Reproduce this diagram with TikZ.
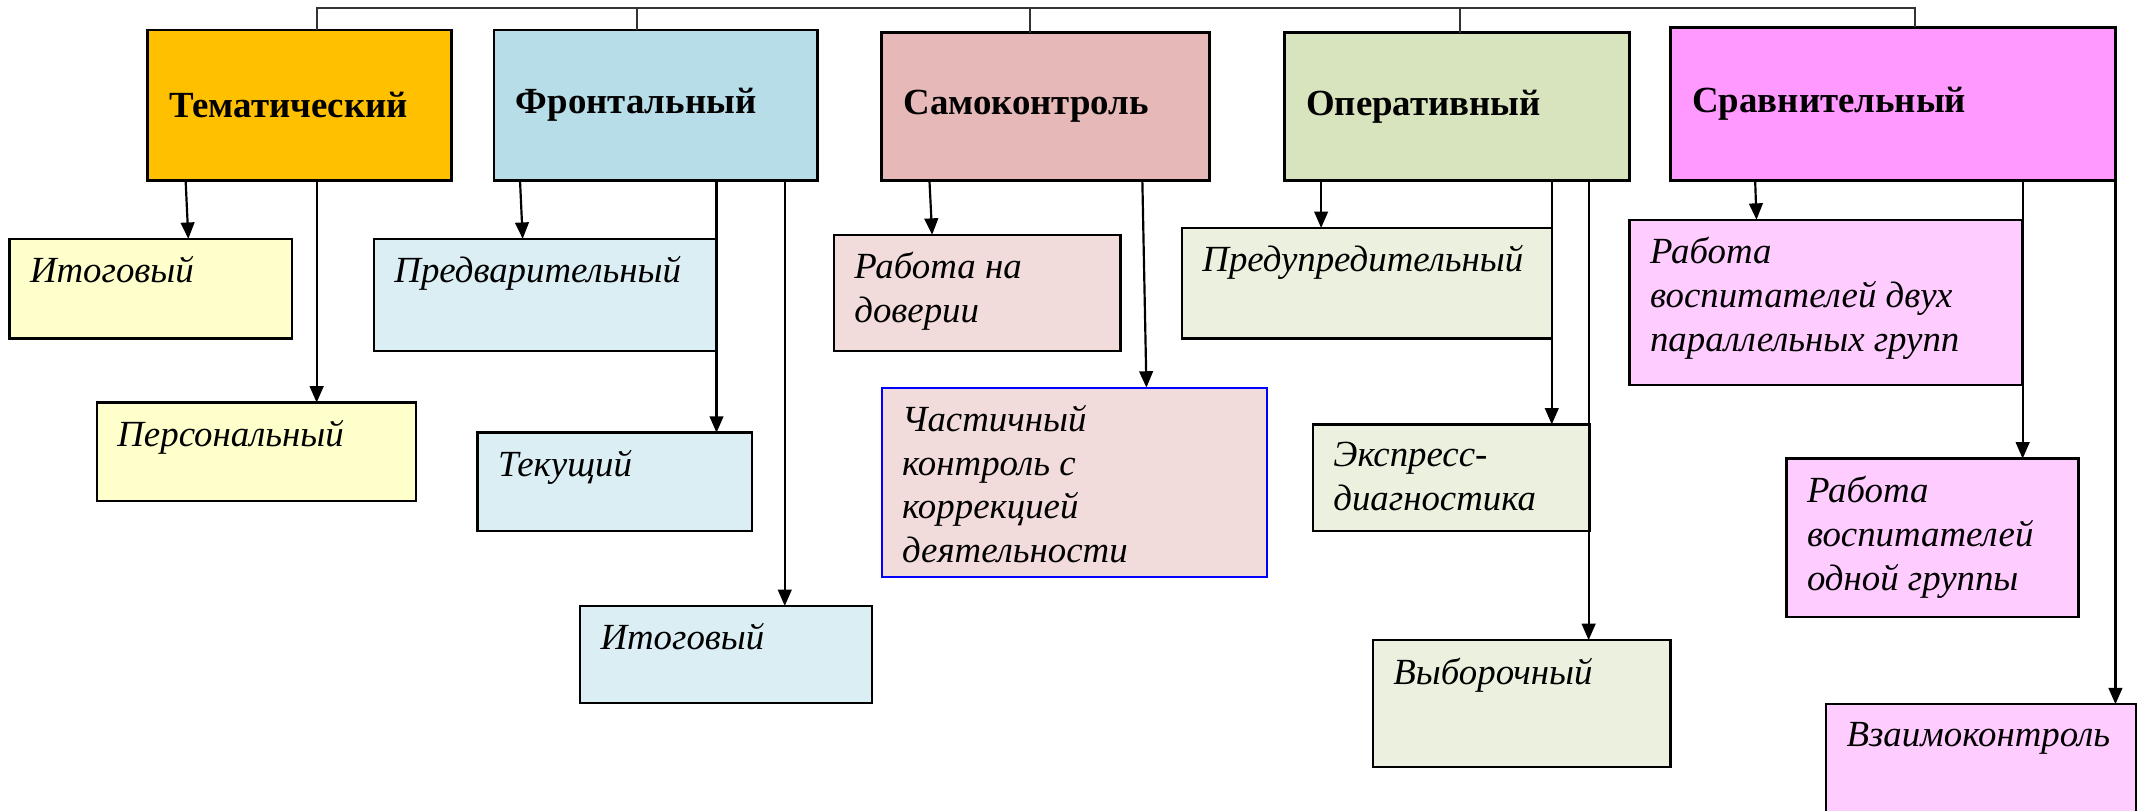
\documentclass[tikz,border=0pt]{standalone}
\usepackage{fontspec}
\setmainfont{Liberation Serif}
\usepackage{tikz}
\usetikzlibrary{arrows.meta}
\definecolor{temaOrange}{RGB}{255, 192, 0}
\definecolor{temaYellow}{RGB}{255, 255, 204}
\definecolor{frontBlue}{RGB}{183, 221, 232}
\definecolor{frontLight}{RGB}{219, 238, 244}
\definecolor{selfRose}{RGB}{230, 185, 184}
\definecolor{selfLight}{RGB}{242, 220, 219}
\definecolor{operGreen}{RGB}{215, 228, 189}
\definecolor{operLight}{RGB}{235, 241, 222}
\definecolor{compPink}{RGB}{255, 153, 255}
\definecolor{compLight}{RGB}{255, 204, 255}

% sub-box: name, x, y, width, height, options, text
\newcommand{\ctrlbox}[7]{%
    \pgfmathsetlengthmacro{\boxw}{#4-30}%
    \pgfmathsetlengthmacro{\boxh}{#5-26}%
    \node[subbox, #6] (#1) at (#2,#3) {\parbox[t][\boxh][t]{\boxw}{\raggedright #7}};}

\begin{document}
\begin{tikzpicture}[x=1pt, y=-1pt, >={Triangle[length=12pt, width=10pt]},
    topbox/.style={draw, line width=2pt, anchor=north west, outer sep=0pt,
        inner xsep=16pt, align=left, font=\fontsize{27}{32}\selectfont\bfseries},
    subbox/.style={draw, line width=1.8pt, anchor=north west, outer sep=0pt,
        inner xsep=15pt, inner ysep=13pt, font=\fontsize{27}{32}\selectfont\itshape},
    link/.style={->, line width=1.6pt},
    barline/.style={line width=1.5pt, black!80}]
            \useasboundingbox (0,0) rectangle (1568,594);
            \clip (0,0) rectangle (1568,594);

            % main kinds of control
            \node[topbox, fill=temaOrange, minimum width=223pt, minimum height=110pt, text width=191pt] (tema) at (108,22) {Тематический};
            \node[topbox, fill=frontBlue, minimum width=237pt, minimum height=110pt, text width=205pt] (front) at (362,22) {Фронтальный};
            \node[topbox, fill=selfRose, minimum width=240pt, minimum height=108pt, text width=208pt] (self) at (646,24) {Самоконтроль};
            \node[topbox, fill=operGreen, minimum width=253pt, minimum height=108pt, text width=221pt] (oper) at (941,24) {Оперативный};
            \node[topbox, fill=compPink, minimum width=326pt, minimum height=112pt, text width=294pt] (compar) at (1224,20) {Сравнительный};

            \draw[barline] (tema.north -| 232,0) |- (1403,6) -- (compar.north -| 1403,0);
            \foreach \n/\x in {front/467, self/755, oper/1070}
                \draw[barline] (\n.north -| \x,0) -- (\x,6);

            % sub-kinds
            \ctrlbox{itogA}{7}{175}{207}{73}{fill=temaYellow}{Итоговый}
            \ctrlbox{pers}{71}{295}{234}{72}{fill=temaYellow}{Персональный}
            \ctrlbox{pred}{274}{175}{251}{82}{fill=frontLight}{Предварительный}
            \ctrlbox{tek}{350}{317}{201}{72}{fill=frontLight}{Текущий}
            \ctrlbox{itogB}{425}{444}{214}{71}{fill=frontLight}{Итоговый}
            \ctrlbox{dover}{611}{172}{210}{85}{fill=selfLight}{Работа на\\доверии}
            \ctrlbox{chast}{646}{284}{282}{139}{fill=selfLight, draw=blue, line width=1.4pt}{Частичный\\контроль с\\коррекцией\\деятельности}
            \ctrlbox{predu}{866}{167}{271}{81}{fill=operLight}{Предупредительный}
            \ctrlbox{ekspr}{962}{311}{203}{78}{fill=operLight}{Экспресс-\\диагностика}
            \ctrlbox{vybor}{1006}{469}{218}{93}{fill=operLight}{Выборочный}
            \ctrlbox{dvuh}{1194}{161}{288}{121}{fill=compLight}{Работа\\воспитателей двух\\параллельных групп}
            \ctrlbox{odnoj}{1309}{336}{214}{116}{fill=compLight}{Работа\\воспитателей\\одной группы}
            \ctrlbox{vzaim}{1338}{516}{227}{130}{fill=compLight}{Взаимоконтроль}

            % arrows
            \draw[link] (tema.south -| 136,0) -- (itogA.north -| 138,0);
            \draw[link] (tema.south -| 232,0) -- (pers.north -| 232,0);
            \draw[link] (front.south -| 381,0) -- (pred.north -| 383,0);
            \draw[link] (front.south -| 525,0) -- (tek.north -| 525,0);
            \draw[link] (front.south -| 575,0) -- (itogB.north -| 575,0);
            \draw[link] (self.south -| 681,0) -- (dover.north -| 683,0);
            \draw[link] (self.south -| 837,0) -- (chast.north -| 840,0);
            \draw[link] (oper.south -| 968,0) -- (predu.north -| 968,0);
            \draw[link] (oper.south -| 1137,0) -- (ekspr.north -| 1137,0);
            \draw[link] (oper.south -| 1164,0) -- (vybor.north -| 1164,0);
            \draw[link] (compar.south -| 1286,0) -- (dvuh.north -| 1287,0);
            \draw[link] (compar.south -| 1482,0) -- (odnoj.north -| 1482,0);
            \draw[link] (compar.south -| 1550,0) -- (vzaim.north -| 1550,0);
        \end{tikzpicture}
\end{document}
